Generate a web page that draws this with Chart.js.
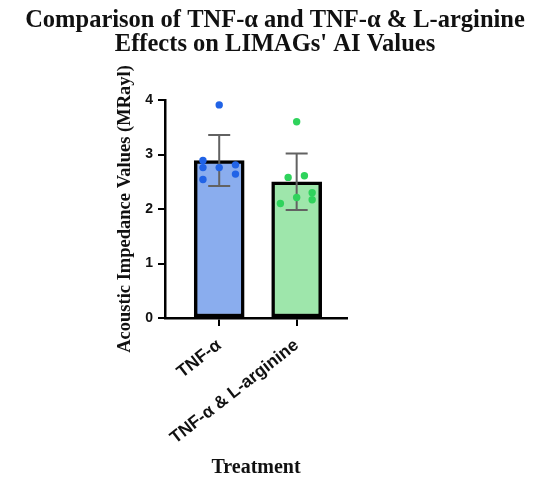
<!DOCTYPE html>
<html>
<head>
<meta charset="utf-8">
<script src="https://cdn.jsdelivr.net/npm/chart.js@4"></script>
<style>
  html, body { margin: 0; padding: 0; background: #fff; }
  #wrap { width: 550px; height: 484px; position: relative; }
</style>
</head>
<body>
<div id="wrap"><canvas id="c"></canvas></div>
<script>
const categories = ['TNF-α', 'TNF-α & L-arginine'];
const means = [2.89, 2.50];
const sds = [0.47, 0.52];
const tnfValues = [3.91, 2.89, 2.76, 2.76, 2.81, 2.64, 2.54];
const tnfJitter = [0, -0.21, -0.21, 0, 0.21, 0.21, -0.21];
const argValues = [3.60, 2.58, 2.61, 2.21, 2.30, 2.17, 2.10];
const argJitter = [0, -0.11, 0.10, 0, 0.20, 0.20, -0.21];
const yTicks = [0, 1, 2, 3, 4];

const errorBarPlugin = {
  id: 'errorBars',
  afterDatasetDraw(chart, args) {
    if (args.index !== 0) return;
    const ctx = chart.ctx;
    const xs = chart.scales.x, ys = chart.scales.y;
    ctx.save();
    ctx.strokeStyle = '#626262';
    ctx.lineWidth = 2;
    means.forEach((m, i) => {
      const x = xs.getPixelForValue(i);
      const yt = ys.getPixelForValue(m + sds[i]);
      const yb = ys.getPixelForValue(m - sds[i]);
      const cap = 11;
      ctx.beginPath();
      ctx.moveTo(x, yt); ctx.lineTo(x, yb);
      ctx.moveTo(x - cap, yt); ctx.lineTo(x + cap, yt);
      ctx.moveTo(x - cap, yb); ctx.lineTo(x + cap, yb);
      ctx.stroke();
    });
    ctx.restore();
  }
};

new Chart(document.getElementById('c'), {
  data: {
    datasets: [
      {
        type: 'bar',
        order: 2,
        data: means.map((m, i) => ({ x: i, y: m })),
        backgroundColor: ['#8aadee', '#9ee6ab'],
        borderColor: '#000',
        borderWidth: 3.5,
        borderSkipped: false,
        barThickness: 50
      },
      {
        type: 'scatter',
        order: 1,
        data: tnfValues.map((v, j) => ({ x: 0 + tnfJitter[j], y: v })),
        pointBackgroundColor: '#2163e6',
        pointBorderWidth: 0,
        pointRadius: 3.7
      },
      {
        type: 'scatter',
        order: 1,
        data: argValues.map((v, j) => ({ x: 1 + argJitter[j], y: v })),
        pointBackgroundColor: '#2fd35c',
        pointBorderWidth: 0,
        pointRadius: 3.7
      }
    ]
  },
  options: {
    responsive: true,
    maintainAspectRatio: false,
    animation: false,
    layout: { padding: 0 },
    plugins: {
      legend: { display: false },
      tooltip: { enabled: false },
      title: {
        display: true,
        text: ['Comparison of TNF-α and TNF-α & L-arginine', "Effects on LIMAGs' AI Values"],
        color: '#111',
        font: { family: 'Liberation Serif', size: 24.5, weight: 'bold', lineHeight: 1.0 },
        padding: { top: 8, bottom: 43 }
      }
    },
    scales: {
      x: {
        type: 'linear',
        offset: false,
        min: -0.7,
        max: 1.65,
        afterBuildTicks(scale) { scale.ticks = categories.map((c, i) => ({ value: i })); },
        afterFit(scale) { scale.height = 166; },
        ticks: {
          callback: (v) => categories[v],
          minRotation: 38,
          maxRotation: 38,
          autoSkip: false,
          color: '#111',
          padding: 9,
          font: { family: 'Liberation Sans', size: 17.5, weight: 'bold' }
        },
        grid: { display: true, offset: false, drawOnChartArea: false, drawTicks: true, tickLength: 8, color: '#000', lineWidth: 2 },
        border: { display: true, color: '#000', width: 2.5 },
        title: {
          display: true,
          text: 'Treatment',
          color: '#111',
          padding: { top: 4, bottom: 4 },
          font: { family: 'Liberation Serif', size: 20, weight: 'bold' }
        }
      },
      y: {
        min: 0,
        max: 4,
        afterBuildTicks(scale) { scale.ticks = yTicks.map(v => ({ value: v })); },
        afterFit(scale) { scale.width = 165; },
        ticks: {
          color: '#111',
          padding: 5,
          font: { family: 'Liberation Sans', size: 14, weight: 'bold' }
        },
        grid: { display: true, drawOnChartArea: false, drawTicks: true, tickLength: 7, color: '#000', lineWidth: 2 },
        border: { display: true, color: '#000', width: 2.5 },
        title: {
          display: true,
          text: 'Acoustic Impedance Values (MRayl)',
          color: '#111',
          padding: { top: 114, bottom: 4 },
          font: { family: 'Liberation Serif', size: 18.5, weight: 'bold' }
        }
      },
      yRight: {
        position: 'right',
        min: 0,
        max: 4,
        display: true,
        afterFit(scale) { scale.width = 203; },
        ticks: { display: false },
        grid: { display: false },
        border: { display: false }
      }
    }
  },
  plugins: [errorBarPlugin]
});
</script>
</body>
</html>
